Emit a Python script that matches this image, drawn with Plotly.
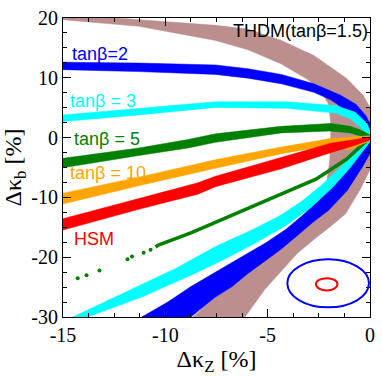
import plotly.graph_objects as go

# ---- data (x = delta kappa_Z [%], y = delta kappa_b [%]) ----

# THDM tanb=1.5 (brown): outer edge and inner edge of the folded band
brown_outer_x = [-15.0, -11.30, -7.55, -5.96, -4.33, -2.74, -1.15, -0.34, 0.10, 0.34,
                 0.10, -0.48, -1.20, -1.92, -2.74, -3.56, -4.33, -5.14, -6.11]
brown_outer_y = [20.66, 19.72, 18.77, 18.14, 16.25, 13.72, 9.94, 7.10, 4.42, 0.0,
                 -4.73, -8.68, -12.78, -14.83, -17.03, -19.40, -22.24, -25.39, -30.0]
brown_inner_x = [-15.0, -11.30, -7.55, -5.96, -4.33, -3.08, -2.40, -2.02, -1.92, -1.92,
                 -1.97, -2.16, -2.45, -2.74, -3.56, -4.33, -5.14, -5.96, -6.73, -7.55, -8.65]
brown_inner_y = [19.72, 18.61, 16.25, 14.67, 12.30, 9.78, 7.89, 5.52, 2.37, -0.79,
                 -3.94, -8.68, -11.83, -13.72, -16.25, -18.45, -20.50, -22.71, -24.92, -26.66, -30.0]

# tanb=2 (blue)
blue_outer_x = [-15.0, -11.30, -7.55, -5.96, -4.33, -2.74, -1.44, -0.67, -0.19, 0.10, 0.19,
                0.10, -0.34, -1.11, -2.02, -2.74, -3.56, -4.33, -5.14, -5.96, -6.73, -7.55, -8.75]
blue_outer_y = [12.62, 12.46, 12.15, 11.51, 10.57, 8.99, 7.10, 5.52, 3.63, 1.58, 0.0,
                -2.05, -4.73, -8.83, -12.15, -14.04, -16.40, -18.61, -20.66, -22.71, -24.92, -26.66, -30.0]
blue_inner_x = [-15.0, -11.30, -7.55, -5.96, -4.33, -2.74, -1.92, -1.44, -0.82, -0.34, 0.0,
                -0.43, -1.01, -1.78, -2.55, -3.22, -4.09, -5.05, -6.01, -6.73, -7.50, -8.75, -9.86, -11.15]
blue_inner_y = [11.36, 11.04, 10.57, 9.94, 8.99, 7.57, 6.31, 5.21, 3.15, 1.26, 0.0,
                -2.05, -4.57, -7.73, -10.57, -12.78, -15.30, -17.51, -19.40, -20.82, -22.40, -24.92, -27.44, -30.0]

# tanb=3 (cyan)
cyan_outer_x = [-15.0, -11.30, -7.55, -4.09, -1.68, -0.72, -0.14, 0.10, 0.14,
                -0.05, -0.43, -1.01, -1.83, -2.88, -4.09, -5.53, -7.21, -8.75, -11.15, -13.80]
cyan_outer_y = [3.79, 4.89, 5.99, 5.99, 5.36, 4.26, 2.37, 0.32, -0.16,
                -0.95, -2.68, -5.21, -8.36, -11.67, -14.67, -17.51, -20.50, -23.03, -26.66, -30.0]
cyan_inner_x = [-15.0, -11.30, -7.55, -4.09, -1.68, -0.96, -0.48, -0.10,
                -0.29, -0.82, -1.54, -2.40, -3.37, -4.42, -5.77, -7.50, -9.52, -11.92, -14.52]
cyan_inner_y = [2.68, 3.79, 5.05, 4.89, 4.10, 3.15, 1.74, 0.0,
                -1.10, -2.68, -5.21, -8.04, -10.73, -13.09, -15.46, -18.14, -21.92, -25.87, -30.0]

# tanb=5 (green): upper branch band, lower branch line and sparse points
green_x = [-15.0, -11.30, -8.89, -7.55, -4.33, -1.92, -0.96, -0.34, 0.05]
green_hi = [-3.47, -1.74, -0.32, 0.63, 1.89, 2.37, 1.89, 1.10, 0.32]
green_lo = [-5.05, -3.00, -1.74, -0.79, 0.79, 1.10, 0.79, 0.16, -0.16]
green_low_x = [0.0, -0.48, -1.15, -2.64, -4.33, -5.96, -7.45, -8.75, -10.34, -10.48]
green_low_y = [0.0, -1.58, -3.63, -6.94, -9.46, -11.83, -14.04, -15.93, -17.98, -18.30]
green_dots_x = [-14.28, -13.85, -13.22, -11.85, -11.63, -11.06, -10.72]
green_dots_y = [-23.50, -23.03, -22.24, -20.35, -19.87, -19.24, -18.77]

# tanb=10 (orange)
orange_x = [-15.0, -11.30, -7.45, -4.33, -1.92, -0.72, 0.05]
orange_hi = [-9.30, -6.62, -3.63, -1.58, -0.16, 0.16, 0.32]
orange_lo = [-11.10, -8.04, -5.05, -2.68, -1.26, -0.47, -0.16]
orange_stub_x = [0.0, -1.15]
orange_stub_y = [-0.30, -2.00]

# HSM (red)
red_x = [-15.0, -11.30, -8.41, -7.55, -4.33, -1.92, -0.72, 0.08]
red_hi = [-13.56, -10.25, -7.57, -6.47, -3.31, -0.95, -0.32, 0.16]
red_lo = [-15.46, -11.99, -9.46, -8.20, -5.21, -2.52, -1.26, -0.32]

# expected precision ellipses (x0, x1, y0, y1)
ellipse_big = [-4.04, -0.05, -28.39, -20.35]
ellipse_small = [-2.64, -1.59, -25.55, -23.50]

x_ticks = [-15, -10, -5, 0]
x_ticktext = ["-15", "-10", "-5", "0"]
y_ticks = [-30, -20, -10, 0, 10, 20]
y_ticktext = ["-30", "-20", "-10", "0", "10", "20"]

labels = [
    ("tan\u03b2=2", -14.66, 14.04, "#0000ff"),
    ("tan\u03b2 = 3", -14.76, 6.15, "#00ffff"),
    ("tan\u03b2 = 5", -14.57, -0.16, "#008000"),
    ("tan\u03b2 = 10", -14.76, -5.84, "#ffa500"),
    ("HSM", -14.57, -16.88, "#ff0000"),
]

BROWN = "#bc8f8f"
SANS = "Liberation Sans"
SERIF = "Liberation Serif"


def band(x1, y1, x2, y2, color):
    """Closed polygon made of one edge followed by the other edge reversed."""
    return go.Scatter(
        x=list(x1) + list(x2)[::-1],
        y=list(y1) + list(y2)[::-1],
        mode="lines",
        fill="toself",
        fillcolor=color,
        line=dict(color=color, width=0.5),
        hoverinfo="skip",
        showlegend=False,
    )


fig = go.Figure()
fig.add_trace(band(brown_outer_x, brown_outer_y, brown_inner_x, brown_inner_y, BROWN))
fig.add_trace(band(blue_outer_x, blue_outer_y, blue_inner_x, blue_inner_y, "#0000ff"))
fig.add_trace(band(cyan_outer_x, cyan_outer_y, cyan_inner_x, cyan_inner_y, "#00ffff"))
fig.add_trace(band(green_x, green_hi, green_x, green_lo, "#008000"))
fig.add_trace(go.Scatter(x=green_low_x, y=green_low_y, mode="lines",
                         line=dict(color="#008000", width=3.5),
                         hoverinfo="skip", showlegend=False))
fig.add_trace(go.Scatter(x=green_dots_x, y=green_dots_y, mode="markers",
                         marker=dict(color="#008000", size=4),
                         hoverinfo="skip", showlegend=False))
fig.add_trace(band(orange_x, orange_hi, orange_x, orange_lo, "#ffa500"))
fig.add_trace(go.Scatter(x=orange_stub_x, y=orange_stub_y, mode="lines",
                         line=dict(color="#ffa500", width=3),
                         hoverinfo="skip", showlegend=False))
fig.add_trace(band(red_x, red_hi, red_x, red_lo, "#ff0000"))

fig.add_shape(type="circle", xref="x", yref="y",
              x0=ellipse_big[0], x1=ellipse_big[1], y0=ellipse_big[2], y1=ellipse_big[3],
              line=dict(color="#0000ff", width=2))
fig.add_shape(type="circle", xref="x", yref="y",
              x0=ellipse_small[0], x1=ellipse_small[1], y0=ellipse_small[2], y1=ellipse_small[3],
              line=dict(color="#ff0000", width=2))

for text, x, y, color in labels:
    fig.add_annotation(x=x, y=y, text=text, showarrow=False, xanchor="left",
                       yanchor="middle", font=dict(family=SANS, size=18, color=color))
fig.add_annotation(x=0, y=17.8, text="THDM(tan\u03b2=1.5)", showarrow=False,
                   xanchor="right", yanchor="middle",
                   font=dict(family=SANS, size=18, color="black"))

axis_common = dict(
    ticks="inside", ticklen=8, tickwidth=1, tickcolor="black",
    showline=True, linecolor="black", linewidth=1, mirror="allticks",
    showgrid=False, zeroline=False, ticklabeloverflow="allow",
    tickfont=dict(family=SERIF, size=20, color="black"),
)

fig.update_xaxes(
    range=[-15, 0], tickmode="array", tickvals=x_ticks, ticktext=x_ticktext,
    minor=dict(dtick=1.25, tick0=-15, ticks="inside", ticklen=4, tickcolor="black"),
    title=dict(text="\u0394\u03ba<sub>Z</sub> [%]", font=dict(family=SERIF, size=24, color="black"),
               standoff=6),
    **axis_common,
)
fig.update_yaxes(
    range=[-30, 20], tickmode="array", tickvals=y_ticks, ticktext=y_ticktext,
    minor=dict(dtick=2.5, tick0=-30, ticks="inside", ticklen=4, tickcolor="black"),
    title=dict(text="\u0394\u03ba<sub>b</sub> [%]", font=dict(family=SERIF, size=24, color="black"),
               standoff=4),
    **axis_common,
)

fig.update_layout(
    width=382, height=376,
    margin=dict(l=63, r=7, t=8, b=51),
    plot_bgcolor="white", paper_bgcolor="white",
    showlegend=False,
)

fig.write_html("out.html", config={"displayModeBar": False},
               post_script="document.body.style.margin='0px';")
